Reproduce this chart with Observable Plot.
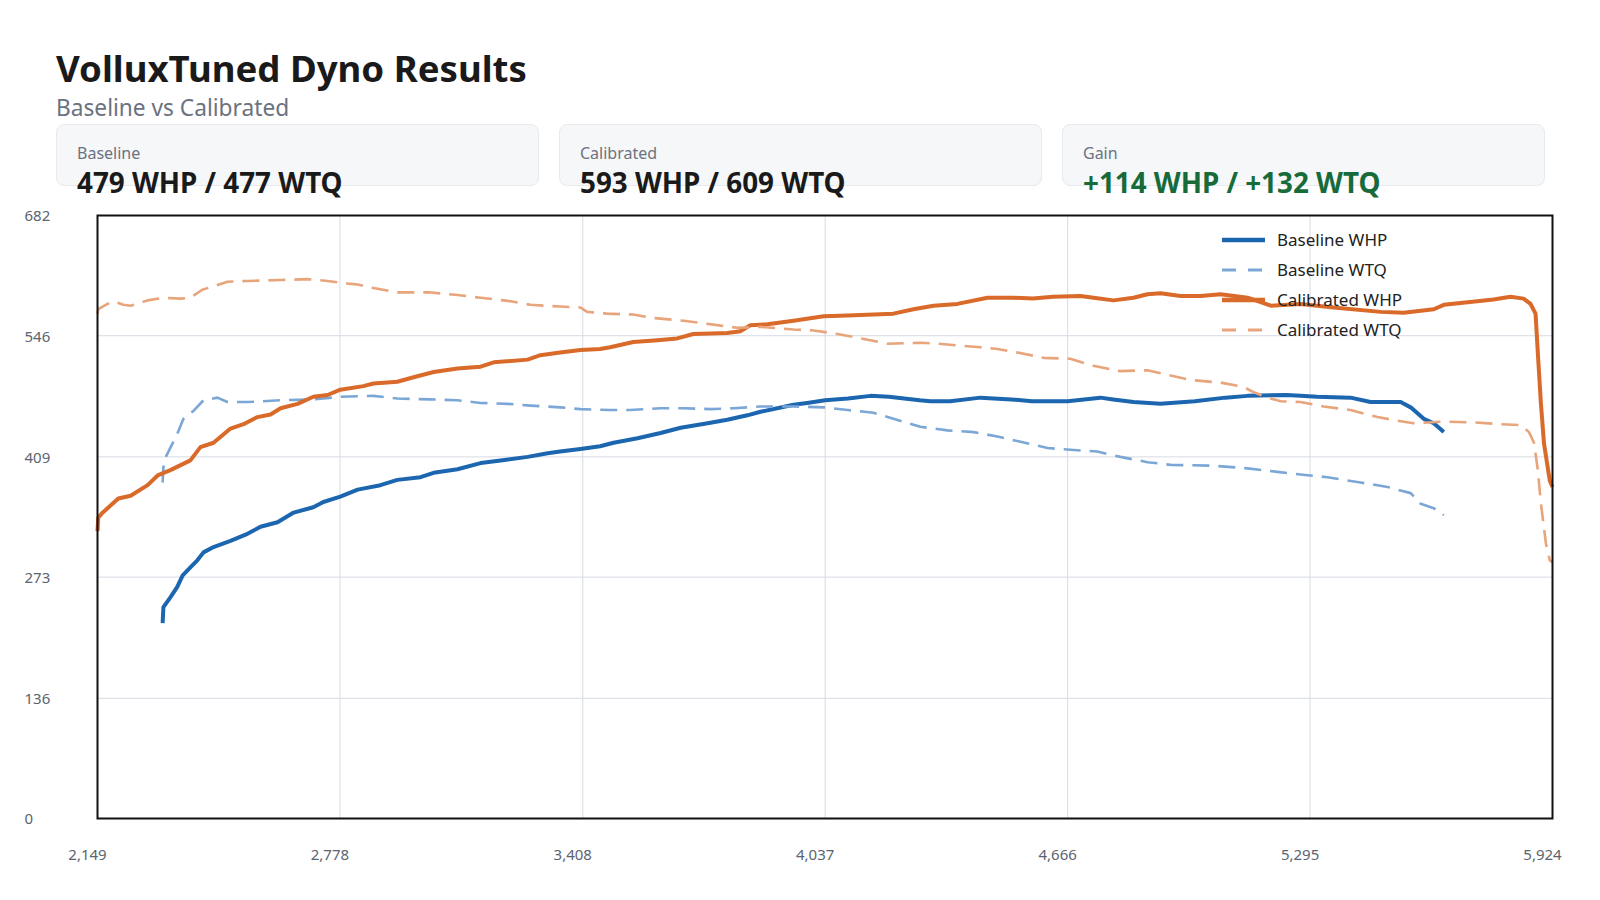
<!DOCTYPE html>
<html>
<head>
<meta charset="utf-8">
<script src="https://cdn.jsdelivr.net/npm/d3@7"></script>
<script src="https://cdn.jsdelivr.net/npm/@observablehq/plot@0.6"></script>
<style>
  html, body { margin:0; padding:0; background:#fff; }
  body { width:1600px; height:900px; position:relative; overflow:hidden; font-family:"Noto Sans", "Open Sans", sans-serif; }
  .abs { position:absolute; line-height:1; white-space:nowrap; }
  #title { left:56px; top:50px; font-size:36.6px; font-weight:700; color:#1a1a1a; }
  #subtitle { left:56px; top:97px; font-size:22.7px; color:#6b7280; }
  .card { position:absolute; top:124px; height:60px; width:481px; background:#f6f7f9; border:1px solid #e8eaee; border-radius:8px; }
  .clabel { font-size:16px; color:#6b7280; }
  .cvalue { font-size:27.8px; font-weight:700; color:#1a1a1a; }
  #chart { position:absolute; left:0; top:200px; }
  .leg-text { font-size:17px; color:#222; }
</style>
</head>
<body>
<div id="title" class="abs">VolluxTuned Dyno Results</div>
<div id="subtitle" class="abs">Baseline vs Calibrated</div>
<div id="cards"></div>
<div id="chart"></div>
<div id="legend"></div>
<script>
// ---- summary cards ----
const cardLabels = ["Baseline", "Calibrated", "Gain"];
const cardValues = ["479 WHP / 477 WTQ", "593 WHP / 609 WTQ", "+114 WHP / +132 WTQ"];
const cardColors = ["#1a1a1a", "#1a1a1a", "#176b3a"];

// ---- axes ----
const xTicks = [2149, 2778, 3408, 4037, 4666, 5295, 5924];
const yTicks = [0, 136, 273, 409, 546, 682];

// ---- series ----
const seriesNames = ["Baseline WHP", "Baseline WTQ", "Calibrated WHP", "Calibrated WTQ"];
const seriesColors = ["#1c66b0", "#7ba7d6", "#d96a2a", "#e8a47a"];

const baseWhpRpm = [2318,2320,2338,2356,2370,2390,2408,2424,2450,2494,2538,2572,2616,2658,2709,2735,2779,2824,2883,2927,2987,3021,3083,3143,3195,3265,3317,3349,3402,3453,3488,3550,3610,3662,3732,3783,3835,3869,3955,3990,4037,4096,4155,4202,4282,4310,4361,4440,4520,4573,4614,4666,4751,4784,4837,4907,4996,5075,5133,5234,5270,5313,5400,5452,5530,5556,5590,5616,5642];
const baseWhp    = [221,239,250,262,275,284,292,301,307,314,322,330,335,346,352,358,364,372,377,383,386,391,395,402,405,409,413,415,418,421,425,430,436,442,447,451,456,460,468,470,473,475,478,477,473,472,472,476,474,472,472,472,476,474,471,469,472,476,478,479,478,477,476,471,471,465,452,447,437];

const baseWtqRpm = [2318,2320,2325,2356,2372,2398,2424,2460,2486,2538,2624,2709,2779,2865,2927,3013,3083,3143,3213,3272,3349,3402,3479,3531,3610,3670,3740,3800,3869,3955,4033,4095,4162,4214,4284,4354,4422,4484,4544,4614,4673,4743,4803,4873,4933,5045,5133,5210,5270,5340,5426,5496,5556,5582,5616,5642];
const baseWtq    = [380,397,408,435,452,461,473,476,471,471,473,474,477,478,475,474,473,470,469,467,465,463,462,462,464,464,463,464,466,466,465,462,459,452,443,439,437,432,426,419,417,415,409,403,400,399,396,392,389,386,380,375,368,356,351,343];

const calWhpRpm = [2149,2151,2160,2203,2235,2279,2305,2338,2390,2416,2450,2494,2528,2564,2598,2624,2668,2709,2746,2779,2839,2865,2927,2969,3021,3083,3143,3177,3265,3298,3349,3402,3453,3479,3539,3602,3653,3695,3783,3817,3843,3887,3955,4033,4095,4214,4266,4318,4380,4458,4525,4576,4628,4699,4733,4785,4837,4873,4907,4959,5011,5063,5133,5193,5237,5270,5356,5478,5538,5616,5642,5704,5771,5815,5849,5867,5880,5886,5894,5902,5917,5924];
const calWhp    = [325,340,345,362,365,377,388,394,405,420,425,441,446,454,457,464,469,477,479,485,489,492,494,499,505,509,511,516,519,524,527,530,531,533,539,541,543,548,549,551,558,559,563,568,569,571,576,580,582,589,589,588,590,591,589,586,589,593,594,591,591,593,589,580,581,582,578,573,572,576,581,584,587,590,588,582,571,526,469,424,382,375];

const calWtqRpm = [2149,2151,2175,2191,2216,2235,2279,2320,2364,2390,2421,2450,2486,2538,2624,2694,2746,2798,2824,2865,2927,3013,3083,3143,3221,3272,3349,3402,3419,3470,3539,3592,3670,3722,3757,3809,3869,3955,4007,4069,4129,4199,4284,4328,4380,4440,4484,4536,4604,4673,4733,4803,4873,4933,4985,5063,5123,5149,5193,5219,5270,5330,5400,5470,5522,5563,5642,5720,5790,5842,5863,5876,5886,5894,5907,5917,5924];
const calWtq    = [571,576,582,585,581,580,586,589,588,589,598,602,607,608,609,610,608,605,604,600,595,595,592,589,585,581,579,578,573,571,570,566,563,560,558,555,556,553,552,548,543,537,538,537,535,533,531,527,521,520,512,506,507,501,496,493,488,482,475,472,471,466,462,454,450,447,449,448,446,445,437,425,394,356,311,292,290];

const styleSolid = {w: 4, dash: null};
const styleDash = {w: 2.6, dash: "17 9"};
const seriesStyle = [styleSolid, styleDash, styleSolid, styleDash];

const rows = (rpm, val, name) => rpm.map((r, i) => ({rpm: r, value: val[i], series: name}));
const seriesData = [
  rows(baseWhpRpm, baseWhp, seriesNames[0]),
  rows(baseWtqRpm, baseWtq, seriesNames[1]),
  rows(calWhpRpm, calWhp, seriesNames[2]),
  rows(calWtqRpm, calWtq, seriesNames[3])
];

// cards
const cardsEl = document.getElementById("cards");
cardLabels.forEach((lab, i) => {
  const left = 56 + i * 503;
  const c = document.createElement("div");
  c.className = "card";
  c.style.left = left + "px";
  cardsEl.appendChild(c);
  const l = document.createElement("div");
  l.className = "abs clabel";
  l.style.left = (left + 21) + "px";
  l.style.top = "145px";
  l.textContent = lab;
  cardsEl.appendChild(l);
  const v = document.createElement("div");
  v.className = "abs cvalue";
  v.style.left = (left + 21) + "px";
  v.style.top = "169px";
  v.style.color = cardColors[i];
  v.textContent = cardValues[i];
  cardsEl.appendChild(v);
});

const lineMarks = seriesData.map((d, i) => Plot.line(d, {
  x: "rpm", y: "value",
  stroke: seriesColors[i],
  strokeWidth: seriesStyle[i].w,
  strokeDasharray: seriesStyle[i].dash,
  strokeLinejoin: "round",
  strokeLinecap: "butt"
}));

const chart = Plot.plot({
  width: 1600,
  height: 680,
  marginTop: 15,
  marginBottom: 62,
  marginLeft: 97,
  marginRight: 48,
  x: {domain: [2149, 5924], label: null},
  y: {domain: [0, 682], label: null},
  style: {fontFamily: "Noto Sans", fontSize: "15px", color: "#5b6470", background: "transparent"},
  marks: [
    Plot.gridX(xTicks, {stroke: "#d6dbe3", strokeOpacity: 1, strokeWidth: 1}),
    Plot.gridY(yTicks, {stroke: "#d6dbe3", strokeOpacity: 1, strokeWidth: 1}),
    ...lineMarks,
    Plot.frame({stroke: "#111", strokeWidth: 2}),
    Plot.axisX(xTicks, {tickSize: 0, tickPadding: 31, dx: -10, tickFormat: d3.format(","), label: null, fill: "#5b6470"}),
    Plot.axisY(yTicks, {anchor: "left", tickSize: 0, tickPadding: 0, textAnchor: "start", dx: -73, dy: 1, label: null, fill: "#5b6470"})
  ]
});
document.getElementById("chart").appendChild(chart);

// legend overlay
const legEl = document.getElementById("legend");
const legendDash = [null, "14 12", null, "14 12"];
seriesNames.forEach((name, i) => {
  const cy = 240 + i * 30;
  const sw = document.createElementNS("http://www.w3.org/2000/svg", "svg");
  sw.setAttribute("width", 44);
  sw.setAttribute("height", 10);
  sw.style.position = "absolute";
  sw.style.left = "1222px";
  sw.style.top = (cy - 5) + "px";
  const ln = document.createElementNS("http://www.w3.org/2000/svg", "line");
  ln.setAttribute("x1", 0); ln.setAttribute("x2", 43);
  ln.setAttribute("y1", 5); ln.setAttribute("y2", 5);
  ln.setAttribute("stroke", seriesColors[i]);
  ln.setAttribute("stroke-width", legendDash[i] ? 3 : 4.5);
  if (legendDash[i]) ln.setAttribute("stroke-dasharray", legendDash[i]);
  sw.appendChild(ln);
  legEl.appendChild(sw);
  const t = document.createElement("div");
  t.className = "abs leg-text";
  t.style.left = "1277px";
  t.style.top = (cy - 9) + "px";
  t.textContent = name;
  legEl.appendChild(t);
});
</script>
</body>
</html>
